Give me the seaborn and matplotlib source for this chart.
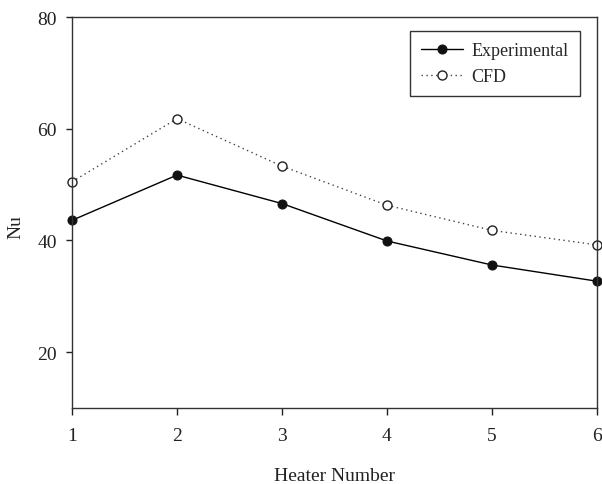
import matplotlib
matplotlib.use("Agg")
import matplotlib.pyplot as plt
import seaborn as sns
import pandas as pd

heater = [1, 2, 3, 4, 5, 6]
experimental = [43.6, 51.7, 46.6, 39.9, 35.6, 32.7]
cfd = [50.5, 61.8, 53.3, 46.3, 41.8, 39.2]
yticks = [20, 40, 60, 80]

sns.set_theme(style="ticks")
plt.rcParams['font.family'] = ['Liberation Serif', 'DejaVu Serif']

df = pd.DataFrame({
    "Heater Number": heater * 2,
    "Nu": experimental + cfd,
    "Series": ["Experimental"] * len(heater) + ["CFD"] * len(heater),
})

fig = plt.figure(figsize=(6.02, 4.85), dpi=100)
ax = fig.add_axes([72/602, 1 - 409/485, (597-72)/602, (409-18)/485])

sns.lineplot(data=df[df.Series == "Experimental"], x="Heater Number", y="Nu", ax=ax,
             color="black", linewidth=1.0, marker="o", markersize=6.5,
             markerfacecolor="#111111", markeredgecolor="#111111", label="Experimental",
             clip_on=False)
sns.lineplot(data=df[df.Series == "CFD"], x="Heater Number", y="Nu", ax=ax,
             color="#444444", linewidth=1.0, linestyle=(0, (1, 2.5)), marker="o", markersize=6.5,
             markerfacecolor="white", markeredgecolor="#222222", markeredgewidth=1.0,
             label="CFD", clip_on=False)

ax.set_xlim(1, 6)
ax.set_ylim(10, 80)
ax.set_xticks(heater)
ax.set_yticks(yticks)
ax.tick_params(axis='both', direction='out', labelsize=14, colors='#222222', width=1.0)
ax.tick_params(axis='x', length=5, pad=9)
ax.tick_params(axis='y', length=4, pad=7)
for s in ax.spines.values():
    s.set_visible(True)
    s.set_color('#333333')
    s.set_linewidth(1.0)

ax.set_xlabel("Heater Number", fontsize=14, labelpad=16, color='#222222')
ax.set_ylabel("Nu", fontsize=14, color='#222222')
ax.yaxis.set_label_coords(-0.09, 0.465)

leg = ax.legend(loc='upper right', bbox_to_anchor=(0.967, 0.963), fontsize=13,
                frameon=True, fancybox=False, edgecolor='#333333', framealpha=1,
                handlelength=2.3, borderpad=0.6, handletextpad=0.5, borderaxespad=0)
leg.get_frame().set_linewidth(1.0)

fig.savefig("out.png", dpi=100)
